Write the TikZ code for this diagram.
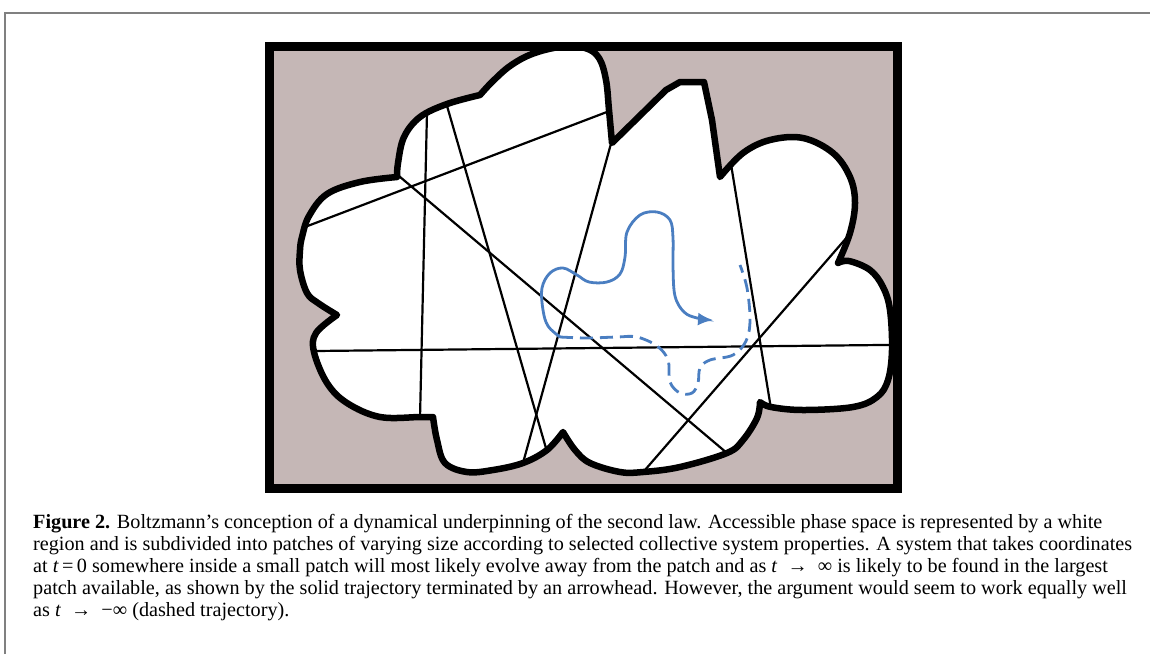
\RequirePackage{fix-cm}
\documentclass[tikz,border=0pt]{standalone}
\usepackage{fontspec}
\setmainfont{Liberation Serif}
\usetikzlibrary{arrows.meta}
\definecolor{mauve}{RGB}{197,183,182}
\definecolor{trajblue}{RGB}{74,126,193}
\definecolor{framegray}{RGB}{128,128,128}
\tikzset{
  outline/.style={draw=black, line width=6.5pt, line join=round},
  patchline/.style={draw=black, line width=2.2pt},
  traj/.style={draw=trajblue, line width=2.8pt, line cap=round},
  dashtraj/.style={draw=trajblue, line width=2.8pt, dash pattern=on 13pt off 7pt},
  capline/.style={anchor=base west, inner sep=0pt, text height=13pt, text depth=4pt, font=\fontsize{20.2}{22}\selectfont}
}
\def\cloudpath{%
  (480,95) -- plot[smooth, tension=0.6] coordinates {(480,95) (492,82) (510,66) (532,54) (560,47) (585,48) (599,58) (606,80) (609,110) (612,143)}
  -- (666,90) -- (680,82) -- (704,82) -- (712,120) -- (720,177)
  -- plot[smooth, tension=0.6] coordinates {(720,177) (743,153) (770,140) (803,138) (833,153) (850,177) (855,203) (850,233) (838,263)}
  -- plot[smooth, tension=0.6] coordinates {(838,263) (849,261) (870,270) (883,287) (890,310) (892,350) (888,380) (877,397) (853,407) (803,410) (771,407) (760,402)}
  -- plot[smooth, tension=0.6] coordinates {(760,402) (757,418) (743,440) (727,453) (680,467) (643,472) (620,472) (590,463) (575,450) (563,432)}
  -- plot[smooth, tension=0.6] coordinates {(563,432) (547,450) (523,463) (493,470) (467,472) (445,463) (437,440) (433,417)}
  -- plot[smooth, tension=0.6] coordinates {(433,417) (420,417) (380,417) (347,403) (327,383) (314,352) (316,333) (337,315)}
  -- plot[smooth, tension=0.6] coordinates {(337,315) (318,303) (307,293) (300,270) (300,250) (302,237) (309,216) (327,194) (360,182) (397,177)}
  -- plot[smooth, tension=0.6] coordinates {(397,177) (398,163) (404,137) (420,117) (447,104) (480,95)}
  -- cycle}
\begin{document}
\begin{tikzpicture}[x=1pt, y=-1pt]
\useasboundingbox (0,0) rectangle (1150,657);
% page frame
\draw[framegray, line width=2pt] (5,654) -- (5,13) -- (1150,13);
% background of figure
\fill[mauve] (269.5,46.5) rectangle (897.5,488.5);
% accessible phase space
\fill[white] \cloudpath;
\begin{scope}
  \clip \cloudpath;
  \draw[patchline] (296,351.2) -- (900,344.8);
  \draw[patchline] (290,232.7) -- (620,107);
  \draw[patchline] (427.5,90) -- (419.5,440);
  \draw[patchline] (443,92) -- (552,469);
  \draw[patchline] (380,160) -- (750,472.5);
  \draw[patchline] (615,129) -- (515,492);
  \draw[patchline] (729,152) -- (774,427);
  \draw[patchline] (868,213) -- (625,493);
\end{scope}
\draw[outline] \cloudpath;
% trajectories
\draw[dashtraj] plot[smooth, tension=0.6] coordinates {(560,337) (587,338) (617,337) (637,337) (657,346) (668,360) (670,382) (680,393) (692,393) (698,383) (700,368) (710,360) (733,355) (746,341) (750,320) (747,288) (740,265)};
\draw[traj, -{Latex[length=15pt, width=13pt]}] plot[smooth, tension=0.6] coordinates {(560,337) (548,326) (543,310) (542,288) (550,273) (563,268) (577,275) (589,282) (607,282) (620,274) (625,257) (627,232) (640,215) (657,212) (670,220) (673,238) (673,267) (675,296) (684,312) (697,318) (713,320)};
% figure border
\draw[black, line width=9pt] (269.5,46.5) rectangle (897.5,488.5);
% caption
\node[capline] (cap1) at (33,528) {\textbf{Figure 2.} Boltzmann’s conception of a dynamical underpinning of the second law. Accessible phase space is represented by a white};
\node[capline] (cap2) at (33,550) {region and is subdivided into patches of varying size according to selected collective system properties. A system that takes coordinates};
\node[capline] (cap3) at (33,572) {at \textit{t}\,=\,0 somewhere inside a small patch will most likely evolve away from the patch and as \textit{t}\enspace→\enspace∞ is likely to be found in the largest};
\node[capline] (cap4) at (33,594) {patch available, as shown by the solid trajectory terminated by an arrowhead. However, the argument would seem to work equally well};
\node[capline] (cap5) at (33,616) {as \textit{t}\enspace→\enspace−∞ (dashed trajectory).};
\end{tikzpicture}
\end{document}
